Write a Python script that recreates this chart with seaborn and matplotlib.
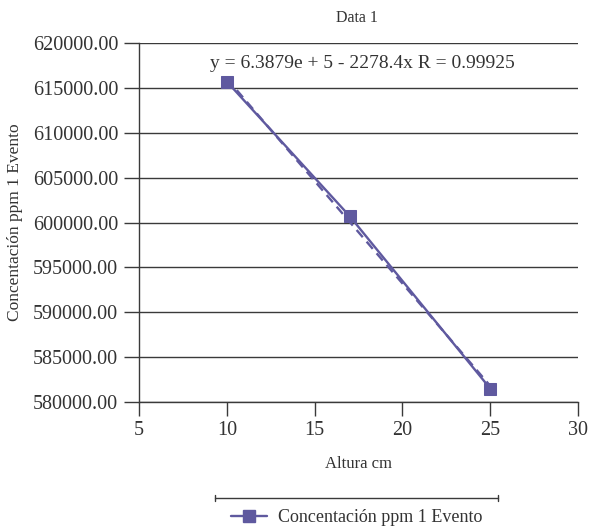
import matplotlib
matplotlib.use("Agg")
import matplotlib.pyplot as plt
import seaborn as sns
import pandas as pd
from matplotlib.lines import Line2D
from matplotlib.ticker import FormatStrFormatter

# Data
altura = [10, 17, 25]
concentracion = [615700.0, 600700.0, 581500.0]
series_name = "Concentación ppm 1 Evento"
title = "Data 1"
equation = "y = 6.3879e + 5 - 2278.4x R = 0.99925"
x_ticks = [5, 10, 15, 20, 25, 30]
y_ticks = [580000, 585000, 590000, 595000, 600000, 605000, 610000, 615000, 620000]

df = pd.DataFrame({"Altura cm": altura, series_name: concentracion})

sns.set_theme(style="white")
plt.rcParams["font.family"] = ["Liberation Serif", "DejaVu Serif"]
TXT = "#333333"
COL = "#5f599f"

fig = plt.figure(figsize=(5.91, 5.29), dpi=100)
ax = fig.add_axes([139/591, 1-402/529, (578-139)/591, (402-43)/529])

sns.regplot(data=df, x="Altura cm", y=series_name, ax=ax, scatter=False, ci=None,
            truncate=True, color=COL, line_kws=dict(lw=1.7, ls=(0, (4, 2.5))))
sns.lineplot(data=df, x="Altura cm", y=series_name, ax=ax, color=COL, lw=1.7,
             marker="s", markersize=8.5, markeredgecolor=COL, zorder=5)

ax.set_xlim(5, 30)
ax.set_ylim(580000, 620000)
ax.set_xticks(x_ticks)
ax.set_yticks(y_ticks)
ax.yaxis.set_major_formatter(FormatStrFormatter("%.2f"))
ax.grid(axis="y", color="#3a3a3a", lw=1.0)
ax.set_axisbelow(True)
for s in ["top", "right"]:
    ax.spines[s].set_visible(False)
for s in ["left", "bottom"]:
    ax.spines[s].set_color("#3a3a3a")
    ax.spines[s].set_linewidth(1.0)
ax.tick_params(axis="x", direction="out", length=10, width=1, color="#3a3a3a",
               pad=4, labelsize=14.5, labelcolor=TXT, bottom=True)
ax.tick_params(axis="y", direction="out", length=11, width=1, color="#3a3a3a",
               pad=4, labelsize=14.5, labelcolor=TXT, left=True)

ax.set_xlabel("Altura cm", fontsize=12, color=TXT)
ax.set_ylabel(series_name, fontsize=12.5, color=TXT)
ax.xaxis.set_label_coords(0.5, (402-464)/359)
ax.yaxis.set_label_coords((15-139)/439, 0.5)
ax.xaxis.label.set_va("center")
ax.yaxis.label.set_va("center")

ax.text(0.508, 0.944, equation, transform=ax.transAxes, ha="center", va="center",
        fontsize=14, color=TXT)
fig.text(357/591, 1-18/529, title, ha="center", va="center", fontsize=11.5, color=TXT)

# bar above legend
fig.add_artist(Line2D([215/591, 498/591], [1-498/529, 1-498/529], color="#3a3a3a",
                      lw=1.0, transform=fig.transFigure))
for xb in [215/591, 498/591]:
    fig.add_artist(Line2D([xb, xb], [1-495/529, 1-501/529], color="#3a3a3a",
                          lw=1.0, transform=fig.transFigure))

handle = Line2D([], [], color=COL, lw=1.7, marker="s", markersize=8.5)
fig.legend([handle], [series_name], loc="center", bbox_to_anchor=(357/591, 1-518/529),
           frameon=False, fontsize=13, handlelength=2.0, handletextpad=0.6,
           labelcolor=TXT)

fig.savefig("out.png", dpi=100)
